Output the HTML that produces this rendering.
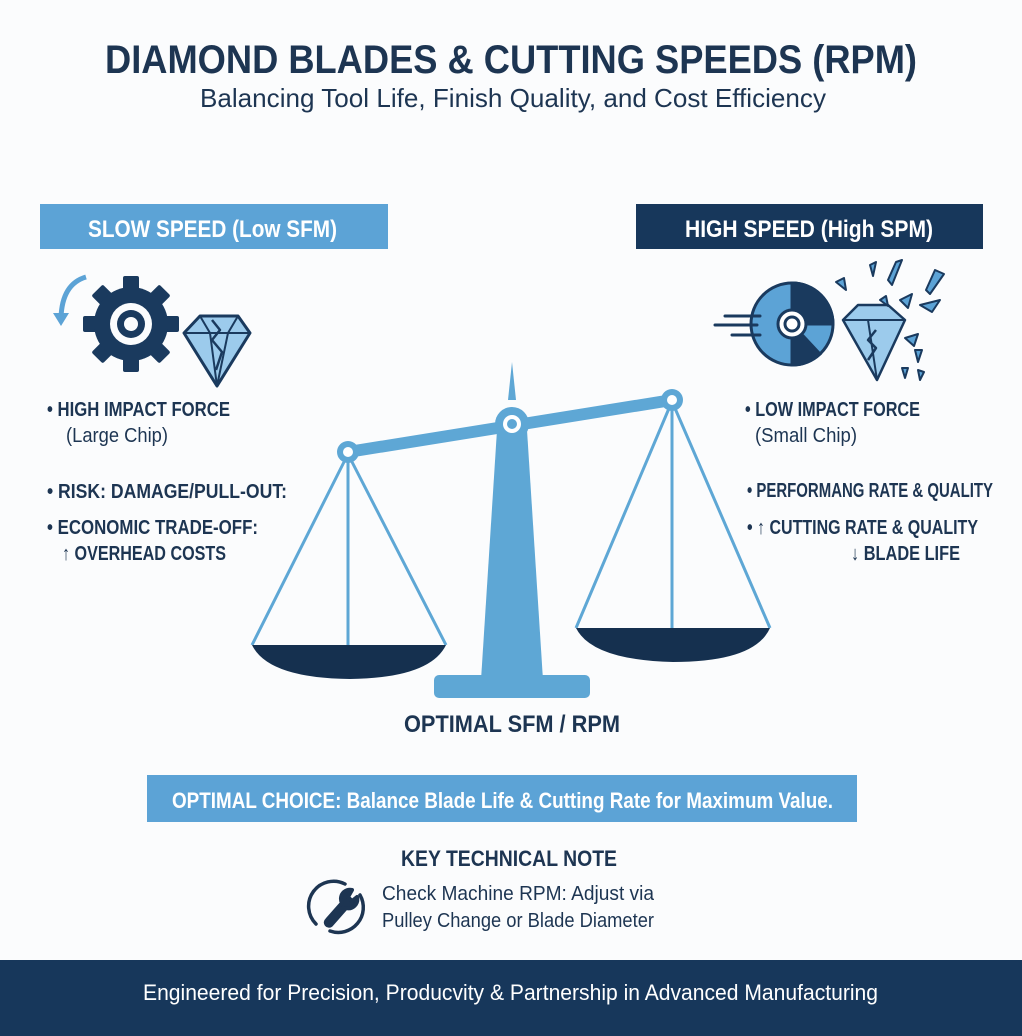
<!DOCTYPE html>
<html><head><meta charset="utf-8"><style>
html,body{margin:0;padding:0;background:#fbfcfd;}
svg{display:block}
text{font-family:"Liberation Sans",sans-serif;}
</style></head><body>
<svg width="1022" height="1036" viewBox="0 0 1022 1036" xmlns="http://www.w3.org/2000/svg">
<rect width="1022" height="1036" fill="#fbfcfd"/>
<g fill="#1d3552">
<text x="105" y="73" font-size="40" font-weight="bold" textLength="812" lengthAdjust="spacingAndGlyphs">DIAMOND BLADES &amp; CUTTING SPEEDS (RPM)</text>
<text x="200" y="107" font-size="26" textLength="626" lengthAdjust="spacingAndGlyphs">Balancing Tool Life, Finish Quality, and Cost Efficiency</text>
</g>
<rect x="40" y="204" width="348" height="45" fill="#5ca3d6"/>
<text x="88" y="237" font-size="24" font-weight="bold" fill="#fff" textLength="249" lengthAdjust="spacingAndGlyphs">SLOW SPEED (Low SFM)</text>
<rect x="636" y="204" width="347" height="45" fill="#17375b"/>
<text x="685" y="237" font-size="24" font-weight="bold" fill="#fff" textLength="248" lengthAdjust="spacingAndGlyphs">HIGH SPEED (High SPM)</text>
<g transform="translate(131,324)" fill="#1a3a5e">
<g id="t"><rect x="-8" y="-48" width="16" height="16" rx="2"/></g>
<use href="#t" transform="rotate(45)"/><use href="#t" transform="rotate(90)"/><use href="#t" transform="rotate(135)"/>
<use href="#t" transform="rotate(180)"/><use href="#t" transform="rotate(225)"/><use href="#t" transform="rotate(270)"/><use href="#t" transform="rotate(315)"/>
<circle r="37"/>
<circle r="21" fill="#fbfcfd"/>
<circle r="14"/>
<circle r="7" fill="#fbfcfd"/>
</g>
<path d="M86 277 Q62 284 61 318" fill="none" stroke="#5ca3d6" stroke-width="5"/>
<path d="M53 313 L61 326 L69 313 Z" fill="#5ca3d6"/>
<g stroke="#1a3a5e" stroke-width="3" stroke-linejoin="round">
<path d="M184 333 L200 316 L238 316 L250 333 L217 386 Z" fill="#9ccbec"/>
<path d="M184 333 L250 333 M200 316 L210 333 L217 386 M238 316 L228 333 L217 386" fill="none" stroke-width="2"/>
<path d="M212 320 L220 330 L212 340 L222 352 L216 370" fill="none" stroke-width="2.5"/>
</g>
<g stroke="#1a3a5e" stroke-width="3">
<circle cx="792" cy="324" r="41" fill="#5ca3d6"/>
<path d="M792 283 A41 41 0 0 1 833 324 L792 324 Z" fill="#1a3a5e"/>
<path d="M792 324 L820 354 A41 41 0 0 1 792 365 Z" fill="#1a3a5e"/>
<circle cx="792" cy="324" r="14" fill="#fff"/>
<circle cx="792" cy="324" r="7" fill="none"/>
</g>
<g stroke="#1a3a5e" stroke-width="3" stroke-linecap="round">
<line x1="725" y1="316" x2="760" y2="316"/><line x1="715" y1="325" x2="757" y2="325"/><line x1="732" y1="335" x2="760" y2="335"/>
</g>
<g stroke="#1a3a5e" stroke-width="2.5" stroke-linejoin="round">
<path d="M843 320 L858 305 L888 305 L905 320 L877 380 Z" fill="#9ccbec"/>
<path d="M843 320 L905 320 M877 380 L868 320" fill="none" stroke-width="2"/>
<path d="M876 330 L868 340 L876 348 L868 360" fill="none"/>
<g fill="#5ca3d6" stroke-width="2">
<path d="M836 282 L844 278 L846 290 Z"/><path d="M870 265 L876 262 L873 276 Z"/>
<path d="M896 262 L902 260 L892 285 L888 280 Z"/><path d="M935 270 L944 274 L930 294 L926 290 Z"/>
<path d="M880 300 L886 296 L888 306 Z"/><path d="M900 300 L912 294 L908 308 Z"/>
<path d="M920 305 L940 300 L932 312 Z"/><path d="M905 338 L918 334 L914 346 Z"/>
<path d="M915 350 L922 350 L918 362 Z"/><path d="M902 368 L908 368 L905 378 Z"/><path d="M918 370 L924 372 L920 380 Z"/>
</g>
</g>
<g fill="#1d3552" font-size="20">
<text x="47" y="416" font-weight="bold" textLength="183" lengthAdjust="spacingAndGlyphs">• HIGH IMPACT FORCE</text>
<text x="66" y="442" textLength="102" lengthAdjust="spacingAndGlyphs">(Large Chip)</text>
<text x="47" y="498" font-weight="bold" textLength="240" lengthAdjust="spacingAndGlyphs">• RISK: DAMAGE/PULL-OUT:</text>
<text x="47" y="534" font-weight="bold" textLength="211" lengthAdjust="spacingAndGlyphs">• ECONOMIC TRADE-OFF:</text>
<text x="62" y="560" font-weight="bold" textLength="164" lengthAdjust="spacingAndGlyphs">↑ OVERHEAD COSTS</text>
<text x="745" y="416" font-weight="bold" textLength="175" lengthAdjust="spacingAndGlyphs">• LOW IMPACT FORCE</text>
<text x="755" y="442" textLength="102" lengthAdjust="spacingAndGlyphs">(Small Chip)</text>
<text x="747" y="497" font-weight="bold" textLength="246" lengthAdjust="spacingAndGlyphs">• PERFORMANG RATE &amp; QUALITY</text>
<text x="747" y="534" font-weight="bold" textLength="231" lengthAdjust="spacingAndGlyphs">• ↑ CUTTING RATE &amp; QUALITY</text>
<text x="851" y="560" font-weight="bold" textLength="109" lengthAdjust="spacingAndGlyphs">↓ BLADE LIFE</text>
</g>
<g fill="#5ea7d5" stroke="none">
<path d="M508 400 L512 362 L516 400 Z"/>
<path d="M497 430 L527 430 L543 680 L481 680 Z"/>
<rect x="434" y="675" width="156" height="23" rx="5"/>
<path d="M348 446 L672 394 L672 406 L348 458 Z"/>
<circle cx="512" cy="424" r="17"/>
<circle cx="348" cy="452" r="11"/>
<circle cx="672" cy="400" r="11"/>
</g>
<circle cx="512" cy="424" r="9" fill="#fff"/><circle cx="512" cy="424" r="5" fill="#5ea7d5"/>
<circle cx="348" cy="452" r="5" fill="#fff"/>
<circle cx="672" cy="400" r="5" fill="#fff"/>
<g stroke="#5ea7d5" stroke-width="3" fill="none">
<path d="M346 458 L252 645 M350 458 L446 645 M348 458 L348 645"/>
<path d="M670 406 L576 628 M674 406 L770 628 M672 406 L672 628"/>
</g>
<path d="M252 645 L446 645 Q430 678 350 679 Q268 678 252 645 Z" fill="#15304f"/>
<path d="M576 628 L770 628 Q755 662 673 662 Q592 660 576 628 Z" fill="#15304f"/>
<text x="404" y="732" font-size="24" font-weight="bold" fill="#1d3552" textLength="216" lengthAdjust="spacingAndGlyphs">OPTIMAL SFM / RPM</text>
<rect x="147" y="775" width="710" height="47" fill="#5ca3d6"/>
<text x="172" y="808" font-size="22" font-weight="bold" fill="#fff" textLength="661" lengthAdjust="spacingAndGlyphs">OPTIMAL CHOICE: Balance Blade Life &amp; Cutting Rate for Maximum Value.</text>
<text x="401" y="866" font-size="22" font-weight="bold" fill="#1d3552" textLength="216" lengthAdjust="spacingAndGlyphs">KEY TECHNICAL NOTE</text>
<g stroke="#1d3552" fill="none" stroke-width="3.5" stroke-linecap="round">
<path d="M345 884 A25 25 0 0 0 316 924"/>
<path d="M330 931 A25 25 0 0 0 360 895"/>
</g>
<path d="M327 920 L342 903 A9 9 0 0 1 352 890 L348 897 L352 901 L357 897 A9 9 0 0 1 346 908 L331 925 A3 3 0 0 1 327 920 Z" fill="#1d3552" stroke="#1d3552" stroke-width="4" stroke-linejoin="round"/>
<g fill="#1d3552" font-size="20">
<text x="382" y="900" textLength="272" lengthAdjust="spacingAndGlyphs">Check Machine RPM: Adjust via</text>
<text x="382" y="927" textLength="272" lengthAdjust="spacingAndGlyphs">Pulley Change or Blade Diameter</text>
</g>
<rect x="0" y="960" width="1022" height="76" fill="#17375b"/>
<text x="143" y="1000" font-size="22" fill="#fff" textLength="735" lengthAdjust="spacingAndGlyphs">Engineered for Precision, Producvity &amp; Partnership in Advanced Manufacturing</text>
</svg>
</body></html>
